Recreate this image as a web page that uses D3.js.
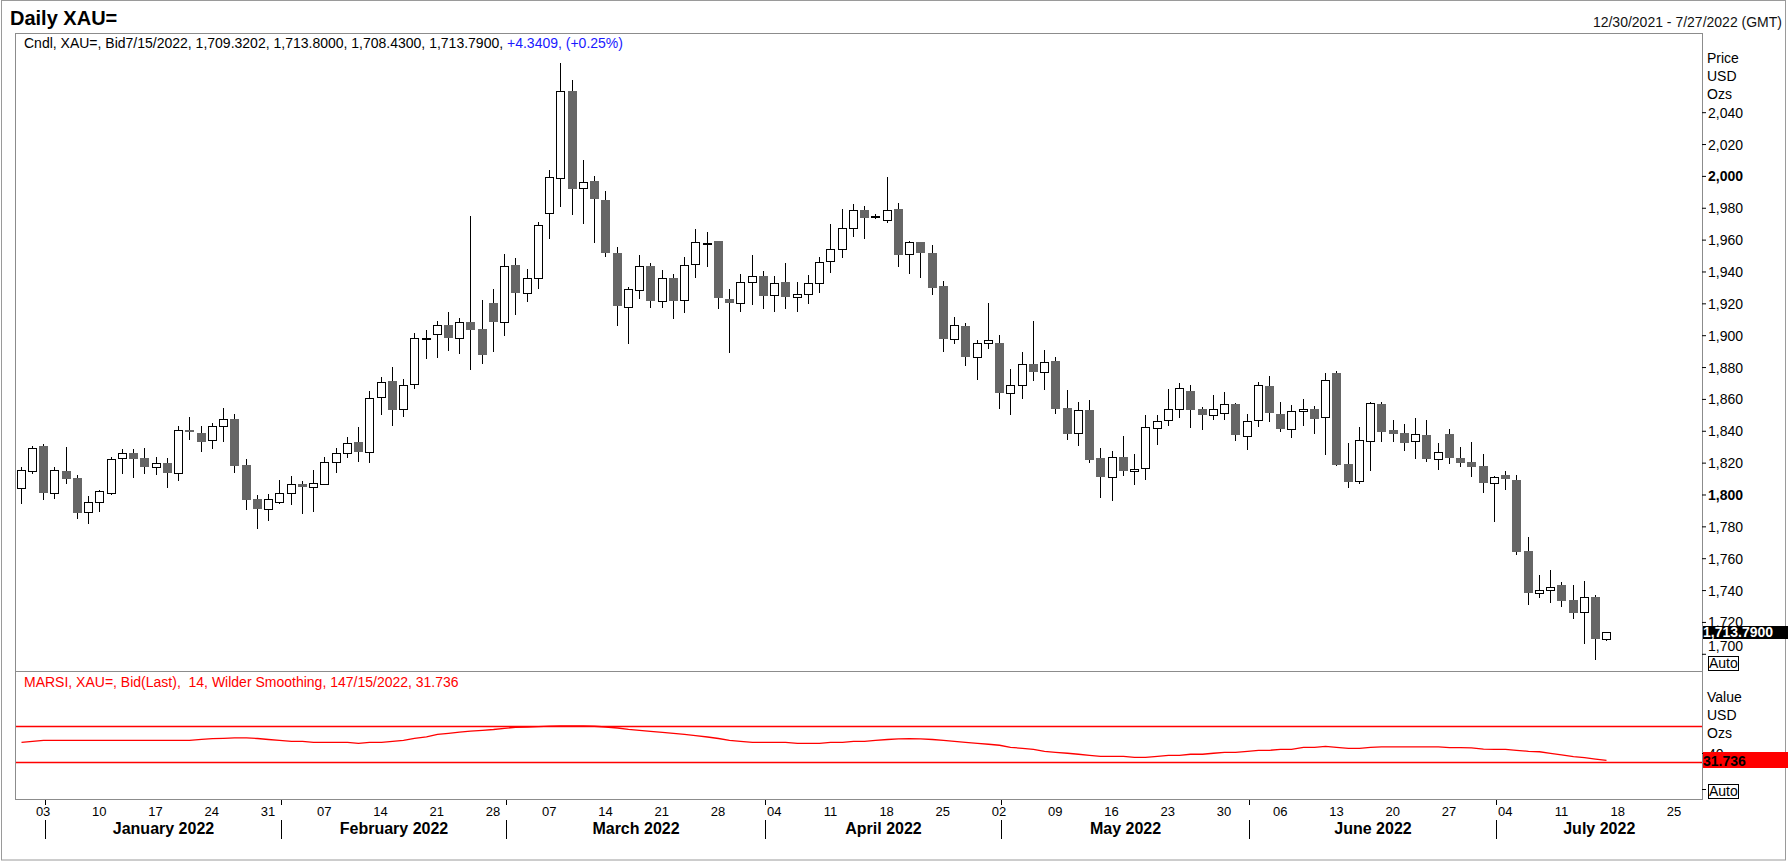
<!DOCTYPE html>
<html><head><meta charset="utf-8">
<script src="https://cdnjs.cloudflare.com/ajax/libs/d3/7.8.5/d3.min.js"></script>
<style>
html,body{margin:0;padding:0;background:#fff;}
svg{display:block;font-family:"Liberation Sans",Arial,Helvetica,sans-serif;}
</style></head><body>
<svg id="chart" width="1788" height="862"></svg>
<script>
// ---------------- DATA ----------------
const dates = [
"2021-12-30","2021-12-31",
"2022-01-03","2022-01-04","2022-01-05","2022-01-06","2022-01-07","2022-01-10","2022-01-11","2022-01-12","2022-01-13","2022-01-14","2022-01-17","2022-01-18","2022-01-19","2022-01-20","2022-01-21","2022-01-24","2022-01-25","2022-01-26","2022-01-27","2022-01-28","2022-01-31",
"2022-02-01","2022-02-02","2022-02-03","2022-02-04","2022-02-07","2022-02-08","2022-02-09","2022-02-10","2022-02-11","2022-02-14","2022-02-15","2022-02-16","2022-02-17","2022-02-18","2022-02-21","2022-02-22","2022-02-23","2022-02-24","2022-02-25","2022-02-28",
"2022-03-01","2022-03-02","2022-03-03","2022-03-04","2022-03-07","2022-03-08","2022-03-09","2022-03-10","2022-03-11","2022-03-14","2022-03-15","2022-03-16","2022-03-17","2022-03-18","2022-03-21","2022-03-22","2022-03-23","2022-03-24","2022-03-25","2022-03-28","2022-03-29","2022-03-30","2022-03-31",
"2022-04-01","2022-04-04","2022-04-05","2022-04-06","2022-04-07","2022-04-08","2022-04-11","2022-04-12","2022-04-13","2022-04-14","2022-04-15","2022-04-18","2022-04-19","2022-04-20","2022-04-21","2022-04-22","2022-04-25","2022-04-26","2022-04-27","2022-04-28","2022-04-29",
"2022-05-02","2022-05-03","2022-05-04","2022-05-05","2022-05-06","2022-05-09","2022-05-10","2022-05-11","2022-05-12","2022-05-13","2022-05-16","2022-05-17","2022-05-18","2022-05-19","2022-05-20","2022-05-23","2022-05-24","2022-05-25","2022-05-26","2022-05-27","2022-05-30","2022-05-31",
"2022-06-01","2022-06-02","2022-06-03","2022-06-06","2022-06-07","2022-06-08","2022-06-09","2022-06-10","2022-06-13","2022-06-14","2022-06-15","2022-06-16","2022-06-17","2022-06-20","2022-06-21","2022-06-22","2022-06-23","2022-06-24","2022-06-27","2022-06-28","2022-06-29","2022-06-30",
"2022-07-01","2022-07-04","2022-07-05","2022-07-06","2022-07-07","2022-07-08","2022-07-11","2022-07-12","2022-07-13","2022-07-14","2022-07-15"
];
const futureDates = ["2022-07-18","2022-07-19","2022-07-20","2022-07-21","2022-07-22","2022-07-25","2022-07-26","2022-07-27"];

const open = [1803.8,1814.9,1830.4,1801.1,1814.7,1810.5,1789.2,1795.6,1801.1,1822.6,1825.8,1822.6,1817.4,1819.5,1813.6,1840.4,1838.3,1834.1,1843.3,1847.7,
1818.4,1797.1,1790.6,1795.4,1800.7,1806.9,1804.4,1806.9,1820.5,1825.8,1832.7,1826.4,1860.9,1871.2,1853.4,1869.1,1898.3,1900.5,1906.1,1898.4,
1908.0,1903.8,1919.9,1908.0,1944.0,1926.6,1935.6,1977.0,1998.4,2053.2,1992.1,1996.7,1984.8,1951.3,1917.8,1928.1,1943.3,1921.6,1936.2,1922.4,
1944.4,1957.6,1959.0,1923.0,1920.5,1933.1,1937.3,1925.1,1933.7,1923.7,1925.6,1932.5,1946.3,1954.4,1967.6,1978.3,1974.8,1972.6,1979.5,1950.7,
1958.2,1951.9,1930.8,1897.9,1905.5,1886.0,1894.8,1895.4,1863.5,1868.5,1881.7,1877.1,1883.8,1854.0,1838.3,1853.0,1822.7,1811.2,1823.3,1814.7,
1816.4,1841.5,1846.5,1853.4,1864.9,1853.4,1849.7,1850.9,1856.6,1836.5,1846.5,1868.1,1850.5,1840.9,1852.2,1853.4,1848.4,1876.0,1819.1,1808.2,
1833.3,1856.8,1840.4,1838.3,1833.3,1837.3,1822.0,1837.9,1823.1,1820.3,1817.8,1807.0,1812.2,1809.1,1764.5,1737.9,1740.0,1743.1,1733.7,1726.0,
1735.8,1709.32];
const high = [1817.4,1830.4,1832.0,1817.4,1829.7,1812.2,1799.0,1802.8,1823.7,1828.5,1828.5,1829.1,1823.3,1822.6,1843.3,1848.4,1843.3,1845.0,1854.0,1850.5,
1822.0,1799.6,1800.2,1809.0,1811.5,1808.6,1815.3,1823.3,1828.9,1835.8,1842.1,1865.1,1873.9,1879.8,1872.8,1901.5,1903.2,1909.1,1914.5,1910.9,
1974.8,1922.0,1928.7,1950.9,1948.2,1941.3,1970.8,2003.6,2070.8,2060.1,2009.9,1999.8,1990.4,1955.1,1930.2,1950.3,1945.6,1940.8,1938.7,1949.0,
1966.6,1964.7,1959.0,1929.3,1938.7,1950.3,1940.2,1937.1,1945.2,1933.7,1938.1,1949.0,1969.5,1979.1,1982.3,1981.0,1976.2,1999.2,1982.9,1959.0,
1958.2,1956.5,1934.3,1911.7,1907.4,1896.9,1919.9,1900.0,1878.7,1889.6,1909.0,1891.0,1886.5,1865.6,1858.0,1859.3,1828.9,1827.3,1836.7,1825.2,
1849.9,1849.9,1866.2,1869.9,1868.7,1855.1,1862.4,1864.3,1857.2,1850.5,1870.4,1874.5,1858.2,1856.1,1859.9,1855.5,1876.0,1877.5,1832.1,1842.1,
1858.2,1858.2,1846.7,1844.2,1847.8,1846.7,1832.1,1841.1,1829.8,1832.9,1825.3,1811.5,1814.7,1812.2,1773.1,1749.2,1752.6,1745.2,1743.1,1745.6,
1736.9,1713.80];
const low = [1794.8,1813.6,1797.1,1797.9,1807.4,1785.4,1782.2,1789.8,1800.0,1813.6,1811.1,1813.6,1812.6,1804.8,1809.4,1834.8,1827.4,1828.9,1833.7,1814.3,
1790.6,1779.1,1784.3,1794.8,1793.8,1788.1,1789.8,1806.3,1814.3,1823.7,1821.2,1820.5,1850.3,1843.6,1849.2,1867.0,1885.8,1886.4,1890.6,1889.0,
1878.7,1882.7,1890.2,1900.3,1913.4,1921.4,1929.7,1960.7,1981.2,1976.2,1970.5,1958.6,1949.8,1906.7,1895.4,1923.5,1917.8,1917.8,1910.5,1914.7,
1936.7,1943.6,1916.8,1889.6,1915.3,1919.3,1917.2,1915.3,1917.2,1915.3,1919.9,1927.2,1939.8,1949.0,1962.4,1961.1,1973.3,1970.8,1943.6,1939.2,
1936.7,1926.0,1890.2,1895.2,1881.6,1872.2,1892.1,1854.6,1850.3,1860.7,1871.8,1866.0,1850.9,1834.8,1831.2,1820.6,1798.6,1796.5,1812.2,1806.5,
1809.9,1831.9,1843.8,1848.8,1842.5,1840.9,1847.6,1847.6,1834.2,1828.3,1843.2,1846.3,1840.0,1836.3,1843.8,1838.8,1825.2,1818.5,1804.4,1807.0,
1815.3,1833.7,1833.7,1827.9,1823.1,1821.2,1816.2,1819.9,1817.8,1811.6,1801.7,1783.5,1803.2,1762.6,1731.0,1735.4,1732.7,1730.1,1722.2,1707.0,
1696.7,1708.43];
const close = [1815.3,1828.9,1801.1,1815.3,1809.9,1788.5,1795.4,1801.9,1822.0,1825.8,1822.4,1817.4,1819.5,1813.6,1840.4,1839.0,1833.1,1843.3,1847.7,1818.0,
1796.5,1790.8,1796.9,1800.7,1806.9,1804.4,1807.4,1820.5,1825.8,1832.5,1826.8,1860.3,1870.8,1853.0,1868.5,1898.0,1898.5,1906.1,1898.4,1908.0,
1903.2,1887.5,1908.4,1943.6,1926.6,1935.6,1968.9,1999.0,2053.2,1991.7,1996.3,1985.4,1951.7,1918.4,1928.7,1943.3,1921.6,1936.2,1921.6,1943.8,
1958.2,1957.8,1923.5,1919.9,1933.5,1937.3,1924.7,1932.9,1924.1,1926.0,1932.5,1946.1,1953.8,1967.0,1978.3,1973.7,1975.0,1978.9,1950.3,1958.2,
1951.7,1929.7,1897.7,1906.1,1886.4,1894.8,1896.7,1863.5,1868.7,1881.7,1877.1,1883.3,1853.8,1838.1,1852.8,1821.6,1811.2,1823.7,1814.9,1816.0,
1842.1,1845.9,1853.4,1866.6,1853.0,1850.1,1853.4,1856.6,1837.5,1845.9,1868.5,1850.9,1841.3,1852.2,1853.4,1847.6,1871.6,1818.7,1808.0,1833.9,
1857.2,1839.4,1838.1,1832.5,1837.7,1822.4,1826.4,1823.1,1819.9,1817.4,1807.0,1810.7,1809.5,1764.0,1738.3,1740.0,1741.9,1733.3,1725.7,1735.8,
1709.2,1713.79];
// MARSI (14, Wilder smoothing) values
const rsi = [51.9,53.0,54.1,54.1,54.1,54.1,54.1,54.1,54.1,54.1,54.1,54.1,54.1,54.1,54.1,54.1,55.2,55.9,56.3,56.7,
56.7,56.1,55.0,54.1,53.0,53.0,51.9,51.9,51.9,51.9,50.8,51.9,51.9,53.0,54.1,56.3,57.8,60.6,61.9,63.3,
64.4,65.2,66.1,67.4,68.6,68.9,69.4,69.8,70.0,70.0,70.0,69.7,68.9,67.8,66.3,65.2,64.1,63.0,61.9,60.8,
59.4,57.8,56.1,54.1,53.0,51.9,51.9,51.9,51.9,50.8,50.8,50.8,51.9,51.9,53.0,53.0,54.1,55.0,55.6,55.9,
55.6,55.0,54.1,53.0,51.9,50.8,49.7,48.6,46.3,45.2,44.1,41.9,40.8,39.7,38.6,37.4,36.3,36.3,36.3,35.2,
35.2,36.3,37.4,37.4,38.6,38.6,39.7,40.8,40.8,41.9,43.0,43.0,44.1,44.1,46.3,46.3,47.4,46.3,45.2,45.2,
46.3,46.7,46.7,46.7,46.7,46.7,46.7,45.9,45.9,45.6,44.4,44.1,44.1,43.0,41.9,41.4,39.7,37.8,35.9,34.8,
33.3,31.736];
const priceTicks = [1700,1720,1740,1760,1780,1800,1820,1840,1860,1880,1900,1920,1940,1960,1980,2000,2020,2040];
const boldPriceTicks = [1800,2000];
const rsiLevels = [30,70];
const rsiTicks = [0,40];
const rsiLabelledTicks = [40];
const lastPriceLabel = "1,713.7900";
const lastRsiLabel = "31.736";
const titleText = "Daily XAU=";
const rangeText = "12/30/2021 - 7/27/2022 (GMT)";
const priceLegendBlack = "Cndl, XAU=, Bid7/15/2022, 1,709.3202, 1,713.8000, 1,708.4300, 1,713.7900, ";
const priceLegendBlue = "+4.3409, (+0.25%)";
const rsiLegend = "MARSI, XAU=, Bid(Last),  14, Wilder Smoothing, 147/15/2022, 31.736";
const priceUnits = ["Price","USD","Ozs"];
const rsiUnits = ["Value","USD","Ozs"];

// ---------------- LAYOUT ----------------
const W = 1788, H = 862;
const L = 15, R = 1702, T = 33, SEP = 671, B = 799;
const FRAME = "#8c8c8c", DOWN = "#666666";
const parse = d3.timeParse("%Y-%m-%d");
const tradeDates = dates.map(parse);
const allDates = tradeDates.concat(futureDates.map(parse));

const svg = d3.select("#chart");
svg.append("rect").attr("width", W).attr("height", H).attr("fill", "#fff");
// outer frame
svg.append("rect").attr("x", 1.5).attr("y", 0.5).attr("width", W - 4).attr("height", H - 2.5)
  .attr("fill", "none").attr("stroke", "#9a9a9a");

const x = d3.scaleBand().domain(allDates).range([L, R]);
const cx = d => Math.round(x(d) + x.bandwidth() / 2);
const y = d3.scaleLinear().domain([1689.2, 2089.7]).range([SEP, T]);
const yR = d3.scaleLinear().domain([30, 70]).range([762, 726]);

// title etc.
svg.append("text").attr("x", 10).attr("y", 25).attr("font-size", 20).attr("font-weight", "bold").text(titleText);
svg.append("text").attr("x", 1782).attr("y", 27).attr("font-size", 14).attr("text-anchor", "end").attr("fill", "#111").text(rangeText);

// plot frame
svg.append("rect").attr("x", L + 0.5).attr("y", T + 0.5).attr("width", R - L).attr("height", B - T)
  .attr("fill", "none").attr("stroke", FRAME);
svg.append("line").attr("x1", L).attr("x2", R).attr("y1", SEP + 0.5).attr("y2", SEP + 0.5).attr("stroke", FRAME);

// legend of price panel
const lg = svg.append("text").attr("x", 24).attr("y", 48).attr("font-size", 14).attr("xml:space", "preserve");
lg.append("tspan").attr("fill", "#000").text(priceLegendBlack);
lg.append("tspan").attr("fill", "#1a1aff").text(priceLegendBlue);

// ---------------- CANDLES ----------------
const candles = tradeDates.map((d, i) => ({d, o: open[i], h: high[i], l: low[i], c: close[i]}));
const cg = svg.append("g");
cg.selectAll("line.wick").data(candles).join("line").attr("class", "wick")
  .attr("x1", d => cx(d.d) + 0.5).attr("x2", d => cx(d.d) + 0.5)
  .attr("y1", d => Math.round(y(d.h))).attr("y2", d => Math.round(y(d.l)) + 1)
  .attr("stroke", "#000").attr("stroke-width", 1);
cg.selectAll("rect.body").data(candles).join("rect").attr("class", "body")
  .each(function(d) {
    const s = d3.select(this);
    const yo = Math.round(y(d.o)), yc = Math.round(y(d.c));
    if (d.c > d.o) {
      s.attr("x", cx(d.d) - 4 + 0.5).attr("width", 8)
       .attr("y", yc + 0.5).attr("height", Math.max(1, yo - yc))
       .attr("fill", "#fff").attr("stroke", "#000").attr("stroke-width", 1);
    } else {
      s.attr("x", cx(d.d) - 4).attr("width", 9)
       .attr("y", yo).attr("height", Math.max(2, yc - yo))
       .attr("fill", DOWN);
    }
  });

// ---------------- PRICE AXIS ----------------
const autoTop = 656;
const ay = svg.append("g").attr("transform", `translate(${R},0)`)
  .call(d3.axisRight(y).tickValues(priceTicks).tickSize(4).tickPadding(2).tickFormat(d3.format(",")));
ay.select(".domain").remove();
ay.selectAll(".tick line").attr("stroke", "#000");
ay.selectAll(".tick text").attr("font-size", 14).attr("font-family", "Liberation Sans, Arial, sans-serif")
  .attr("fill", "#000")
  .attr("font-weight", d => boldPriceTicks.includes(d) ? "bold" : "normal")
  .attr("dy", d => (y(d) + 7 > autoTop) ? (autoTop - 11 - y(d)) + 5 + "px" : "5px");

priceUnits.forEach((t, i) => svg.append("text").attr("x", 1707).attr("y", 63 + i * 18).attr("font-size", 14).text(t));

// last price box
const yl = y(close[close.length - 1]);
svg.append("rect").attr("x", R + 1).attr("y", Math.round(yl) - 6).attr("width", W - R - 1).attr("height", 13).attr("fill", "#000");
svg.append("text").attr("x", 1703).attr("y", Math.round(yl) + 5).attr("font-size", 14).attr("font-weight", "bold")
  .attr("fill", "#fff").text(lastPriceLabel);

function autoBox(top) {
  svg.append("rect").attr("x", 1708.5).attr("y", top + 0.5).attr("width", 30).attr("height", 14)
    .attr("fill", "#fff").attr("stroke", "#000");
  svg.append("text").attr("x", 1709).attr("y", top + 12).attr("font-size", 14).text("Auto");
}
autoBox(autoTop);

// ---------------- RSI PANEL ----------------
svg.append("text").attr("x", 24).attr("y", 687).attr("font-size", 14).attr("fill", "#ff0000")
  .attr("xml:space", "preserve").text(rsiLegend);
svg.selectAll("line.lvl").data(rsiLevels).join("line").attr("class", "lvl")
  .attr("x1", L + 1).attr("x2", R).attr("y1", d => yR(d) + 0.5).attr("y2", d => yR(d) + 0.5)
  .attr("stroke", "#ff0000").attr("stroke-width", 1.3);
const rsiLine = d3.line().x((v, i) => cx(tradeDates[i]) + 0.5).y(v => yR(v));
svg.append("path").attr("d", rsiLine(rsi)).attr("fill", "none").attr("stroke", "#ff0000").attr("stroke-width", 1.3);

rsiUnits.forEach((t, i) => svg.append("text").attr("x", 1707).attr("y", 702 + i * 18).attr("font-size", 14).text(t));
const ar = svg.append("g").attr("transform", `translate(${R},0)`)
  .call(d3.axisRight(yR).tickValues(rsiTicks).tickSize(4).tickPadding(2)
    .tickFormat(d => rsiLabelledTicks.includes(d) ? String(d) : ""));
ar.select(".domain").remove();
ar.selectAll(".tick line").attr("stroke", "#000");
ar.selectAll(".tick text").attr("font-size", 14).attr("font-family", "Liberation Sans, Arial, sans-serif").attr("fill", "#000").attr("dy", "5px");

const yrl = yR(rsi[rsi.length - 1]);
svg.append("rect").attr("x", R + 1).attr("y", Math.round(yrl) - 8).attr("width", W - R - 1).attr("height", 16).attr("fill", "#ff0000");
svg.append("text").attr("x", 1703).attr("y", Math.round(yrl) + 6).attr("font-size", 14).attr("font-weight", "bold")
  .attr("fill", "#000").text(lastRsiLabel);
autoBox(784);

// ---------------- X AXIS ----------------
const mondays = allDates.filter(d => d.getDay() === 1);
const ax = svg.append("g").attr("transform", `translate(0,${B})`)
  .call(d3.axisBottom(x).tickValues(mondays).tickSize(0).tickPadding(8).tickFormat(d3.timeFormat("%d")));
ax.select(".domain").remove();
ax.selectAll(".tick text").attr("font-size", 13).attr("font-family", "Liberation Sans, Arial, sans-serif").attr("fill", "#000");

// month starts
const monthStarts = allDates.filter((d, i) => i > 0 && d.getMonth() !== allDates[i - 1].getMonth());
const sepX = d => cx(d) + 2.5;
svg.selectAll("line.mt").data(monthStarts).join("line").attr("class", "mt")
  .attr("x1", sepX).attr("x2", sepX).attr("y1", B + 1).attr("y2", B + 6).attr("stroke", "#000");
svg.selectAll("line.ms").data(monthStarts).join("line").attr("class", "ms")
  .attr("x1", sepX).attr("x2", sepX).attr("y1", 820).attr("y2", 839).attr("stroke", "#000");
const monthFmt = d3.timeFormat("%B %Y");
svg.selectAll("text.ml").data(monthStarts).join("text").attr("class", "ml")
  .attr("x", (d, i) => ((sepX(d) + (i < monthStarts.length - 1 ? sepX(monthStarts[i + 1]) : R)) / 2))
  .attr("y", 834).attr("text-anchor", "middle").attr("font-size", 16).attr("font-weight", "bold")
  .text(monthFmt);
</script>
</body></html>
